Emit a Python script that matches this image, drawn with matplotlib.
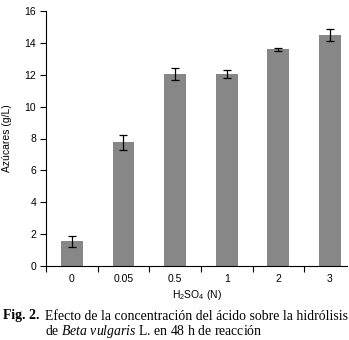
import numpy as np
import matplotlib.pyplot as plt

plt.rcParams['mathtext.fontset'] = 'custom'
plt.rcParams['mathtext.rm'] = 'Liberation Sans'
plt.rcParams['mathtext.it'] = 'Liberation Serif:italic'
plt.rcParams['mathtext.bf'] = 'Liberation Serif:bold'

conc = ['0', '0.05', '0.5', '1', '2', '3']
azucares = [1.55, 7.75, 12.05, 12.05, 13.6, 14.5]
err = [0.35, 0.45, 0.35, 0.25, 0.1, 0.4]

W, H = 349, 340
fig = plt.figure(figsize=(W / 100, H / 100), dpi=100)
ax = fig.add_axes([46 / W, 1 - 266 / H, (347 - 46) / W, (266 - 11) / H])

x = np.arange(len(conc))
ax.bar(x, azucares, width=0.42, color='#878787', zorder=2)
ax.errorbar(x, azucares, yerr=err, fmt='none', ecolor='black',
            elinewidth=0.9, capsize=2.6, capthick=0.9, zorder=3)

ax.set_xlim(-0.5, 5.33)
ax.set_ylim(0, 16)
ax.set_yticks(np.arange(0, 17, 2))
ax.set_xticks(x)
ax.set_xticklabels(conc)
ax.set_xticks(np.arange(-0.5, 5, 1), minor=True)
ax.tick_params(axis='x', which='major', length=0, pad=6)
ax.tick_params(axis='x', which='minor', length=4.3, width=0.8, direction='out')
ax.tick_params(axis='y', length=4.5, width=0.8, pad=2.5)
ax.tick_params(labelsize=7.5)
for lab in ax.get_xticklabels() + ax.get_yticklabels():
    lab.set_fontfamily('Liberation Sans')

for s in ['top', 'right']:
    ax.spines[s].set_visible(False)
for s in ['left', 'bottom']:
    ax.spines[s].set_linewidth(0.8)

ax.set_xlabel(r'H$_2$SO$_4$ (N)', fontsize=7.5, family='Liberation Sans', labelpad=3)
ax.set_ylabel('Azúcares (g/L)', fontsize=7.5, family='Liberation Sans', labelpad=9)

fig.text(3 / W, 1 - 316 / H, 'Fig. 2.', fontsize=9.9, fontweight='bold',
         family='Liberation Serif', va='center')
fig.text(45 / W, 1 - 316 / H, 'Efecto de la concentración del ácido sobre la hidrólisis',
         fontsize=9.9, family='Liberation Serif', va='center')
fig.text(45 / W, 1 - 331 / H, r'de $\mathit{Beta\ vulgaris}$ L. en 48 h de reacción',
         fontsize=9.9, family='Liberation Serif', va='center')

fig.savefig('out.png', dpi=100)
